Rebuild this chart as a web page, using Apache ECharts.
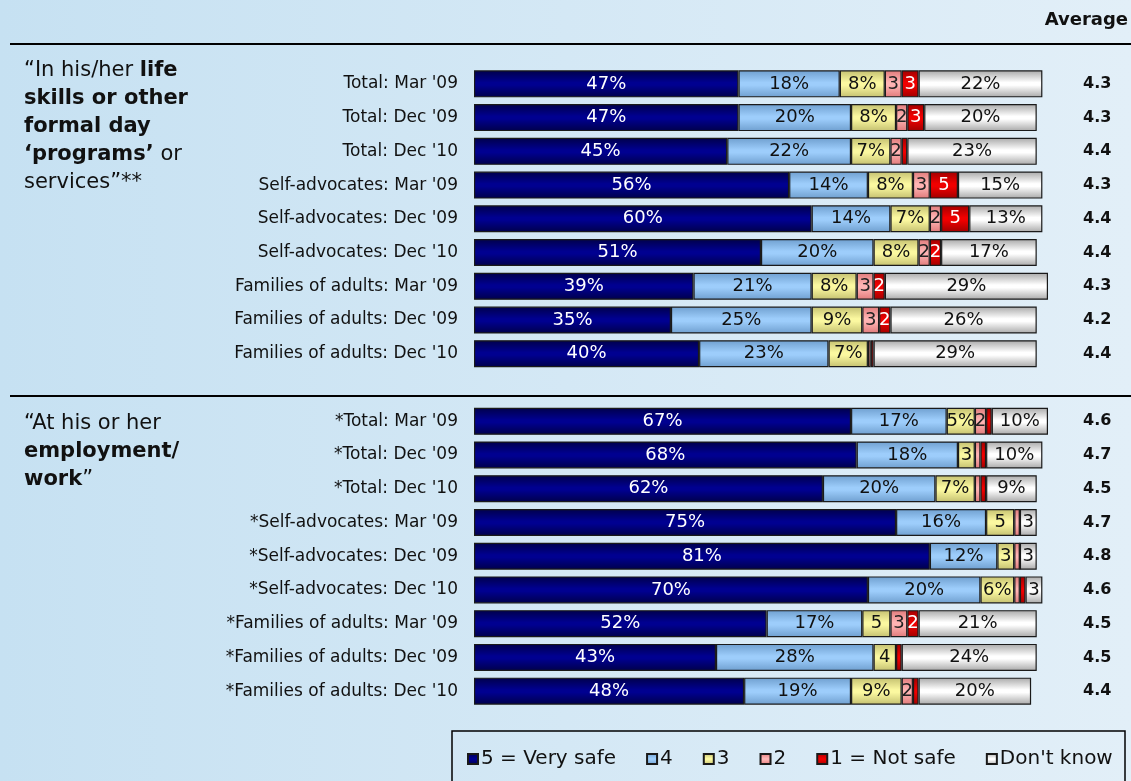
<!DOCTYPE html>
<html>
<head>
<meta charset="utf-8">
<script src="https://cdn.jsdelivr.net/npm/echarts@6/dist/echarts.min.js"></script>
<style>html,body{margin:0;padding:0;}#c{width:1131px;height:781px;}</style>
</head>
<body>
<div id="c"></div>
<script>
var categories = ["Total: Mar '09","Total: Dec '09","Total: Dec '10","Self-advocates: Mar '09","Self-advocates: Dec '09","Self-advocates: Dec '10","Families of adults: Mar '09","Families of adults: Dec '09","Families of adults: Dec '10","",
  "*Total: Mar '09","*Total: Dec '09","*Total: Dec '10","*Self-advocates: Mar '09","*Self-advocates: Dec '09","*Self-advocates: Dec '10","*Families of adults: Mar '09","*Families of adults: Dec '09","*Families of adults: Dec '10"];
var v5 = [47,47,45,56,60,51,39,35,40,'-',67,68,62,75,81,70,52,43,48];
var v4 = [18,20,22,14,14,20,21,25,23,'-',17,18,20,16,12,20,17,28,19];
var v3 = [8,8,7,8,7,8,8,9,7,'-',5,3,7,5,3,6,5,4,9];
var v2 = [3,2,2,3,2,2,3,3,0.5,'-',2,1,1,1,1,1,3,0,2];
var v1 = [3,3,1,5,5,2,2,2,0.5,'-',1,1,1,0,0,1,2,1,1];
var vDK = [22,20,23,15,13,17,29,26,29,'-',10,10,9,3,3,3,21,24,20];
var averages = ['4.3','4.3','4.4','4.3','4.4','4.4','4.3','4.2','4.4','','4.6','4.7','4.5','4.7','4.8','4.6','4.5','4.5','4.4'];
var seriesNames = ['5 = Very safe','4','3','2','1 = Not safe',"Don't know"];
var pctExceptions = ['2:10'];

function grad(edge, mid){
  return new echarts.graphic.LinearGradient(0,0,0,1,[
    {offset:0,color:edge},{offset:0.45,color:mid},{offset:0.55,color:mid},{offset:1,color:edge}]);
}
var styles = [
  {c: grad('#00004a','#000090'), t:'#ffffff'},
  {c: grad('#6f9fcf','#9dcdfb'), t:'#111111'},
  {c: grad('#c4c070','#fbf8a0'), t:'#111111'},
  {c: grad('#e07a7a','#ffb4b4'), t:'#222222'},
  {c: grad('#a00000','#f00000'), t:'#ffffff'},
  {c: grad('#a8a8a8','#ffffff'), t:'#111111'}
];
var dataSets = [v5,v4,v3,v2,v1,vDK];

var series = dataSets.map(function(d, si){
  return {
    name: seriesNames[si], type:'bar', stack:'all', barWidth:27, data:d,
    itemStyle:{color:styles[si].c, borderColor:'#1a1a1a', borderWidth:1.2},
    label:{show:true, position:'inside', color:styles[si].t, fontSize:18,
      fontFamily:'DejaVu Sans',
      formatter:function(p){
        var v = p.value;
        if (v === '-' || v == null || v < 2) return '';
        if (v >= 6 || pctExceptions.indexOf(si+':'+p.dataIndex) >= 0) return v+'%';
        return ''+v;
      }},
    emphasis:{disabled:true}, animation:false
  };
});

var chart = echarts.init(document.getElementById('c'));
chart.setOption({
  animation:false,
  grid:{left:474, top:67, width:574, height:641},
  xAxis:{type:'value', min:0, max:102, show:false},
  yAxis:[
    {type:'category', data:categories, inverse:true, axisLine:{show:false}, axisTick:{show:false},
     axisLabel:{margin:16, fontSize:17, color:'#111', fontFamily:'DejaVu Sans'}},
    {type:'category', data:averages, inverse:true, position:'right', axisLine:{show:false}, axisTick:{show:false},
     axisLabel:{margin:35, fontSize:16, fontWeight:'bold', color:'#111', fontFamily:'DejaVu Sans', align:'left'}}
  ],
  legend:{left:462, top:744, itemWidth:10, itemHeight:10, itemGap:30, icon:'rect',
    textStyle:{fontSize:20, color:'#111', fontFamily:'DejaVu Sans', padding:[0,0,0,-2]}},
  series:series,
  graphic:[
    {type:'rect', z:-10, silent:true, shape:{x:0,y:0,width:1131,height:781},
     style:{fill:new echarts.graphic.LinearGradient(0,0,1,0,[{offset:0,color:'#c6e1f2'},{offset:1,color:'#e2eff8'}])}},
    {type:'line', shape:{x1:10,y1:44,x2:1131,y2:44}, style:{stroke:'#000', lineWidth:2}},
    {type:'line', shape:{x1:10,y1:396,x2:1131,y2:396}, style:{stroke:'#000', lineWidth:2}},
    {type:'text', x:1128, y:20, style:{text:'Average', align:'right', verticalAlign:'middle', font:'bold 18px "DejaVu Sans"', fill:'#111'}},
    {type:'text', x:24, y:57, style:{
      text:'{n|\u201cIn his/her }{b|life}\n{b|skills or other}\n{b|formal day}\n{b|\u2018programs\u2019}{n| or}\n{n|services\u201d**}',
      rich:{n:{font:'21px "DejaVu Sans"', fill:'#111', lineHeight:28}, b:{font:'bold 21px "DejaVu Sans"', fill:'#111', lineHeight:28}}}},
    {type:'text', x:24, y:410, style:{
      text:'{n|\u201cAt his or her}\n{b|employment/}\n{b|work}{n|\u201d}',
      rich:{n:{font:'21px "DejaVu Sans"', fill:'#111', lineHeight:28}, b:{font:'bold 21px "DejaVu Sans"', fill:'#111', lineHeight:28}}}},
    {type:'rect', z:-5, shape:{x:452,y:731,width:673,height:60}, style:{fill:'none', stroke:'#000', lineWidth:1.5}}
  ]
});
</script>
</body>
</html>
